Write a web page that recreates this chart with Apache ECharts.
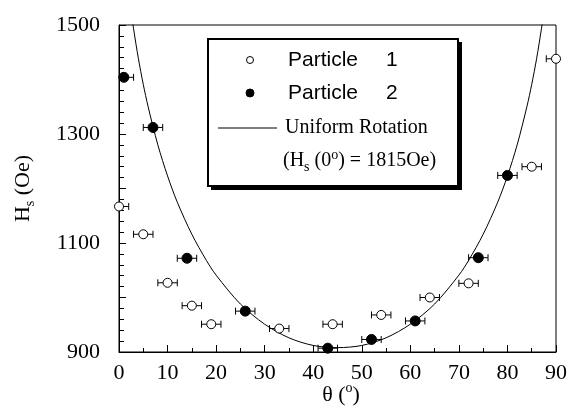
<!DOCTYPE html>
<html>
<head>
<meta charset="utf-8">
<script src="https://cdn.jsdelivr.net/npm/echarts@6/dist/echarts.min.js"></script>
<style>html,body{margin:0;padding:0;background:#fff}#c{width:570px;height:407px}</style>
</head>
<body>
<div id="c"></div>
<script>
// Particle 1 (open circles)
var p1X = [0, 5, 10, 15, 19, 33, 44, 54, 64, 72, 85, 90];
var p1Y = [1167, 1116, 1027, 985, 951, 943, 951, 968, 1000, 1026, 1240, 1438];
var p1Err = [2, 2, 2, 2, 2, 2, 2, 2, 2, 2, 2, 2];
// Particle 2 (filled circles)
var p2X = [1, 7, 14, 26, 43, 52, 61, 74, 80];
var p2Y = [1404, 1312, 1072, 975, 907, 923, 957, 1073, 1224];
var p2Err = [2, 2, 2, 2, 2, 2, 2, 2, 2];
// Uniform rotation curve
var curveX = [1.5, 2, 2.5, 3, 4, 5, 6, 8, 10, 12, 15, 18, 20, 25, 30, 35, 40, 45, 50, 55, 60, 65, 70, 72, 75, 78, 80, 82, 84, 85, 86, 87, 87.5, 88, 88.5];
var curveY = [1599, 1560, 1525, 1493, 1438, 1391, 1350, 1280, 1223, 1175, 1116, 1068, 1041, 988, 951, 926, 912, 908, 912, 926, 951, 988, 1041, 1068, 1116, 1175, 1223, 1280, 1350, 1391, 1438, 1493, 1525, 1560, 1599];
// Axes
var xMin = 0, xMax = 90, xStep = 10;
var yMin = 900, yMax = 1500, yStep = 100;
var yLabels = [900, 1100, 1300, 1500];

function pairs(a, b) { return a.map(function (v, i) { return [v, b[i]]; }); }
function triples(a, b, c) { return a.map(function (v, i) { return [v, b[i], c[i]]; }); }

var SERIF = "'Liberation Serif', 'DejaVu Serif', serif";
var SANS = "'Liberation Sans', Arial, sans-serif";

function renderErr(params, api) {
  var x = api.value(0), y = api.value(1), e = api.value(2);
  var lo = Math.max(xMin, x - e), hi = Math.min(xMax, x + e);
  var p1 = api.coord([lo, y]), p2 = api.coord([hi, y]);
  var st = { stroke: '#000', lineWidth: 1 };
  var ch = [{ type: 'line', shape: { x1: p1[0], y1: p1[1], x2: p2[0], y2: p2[1] }, style: st }];
  if (x - e >= xMin) ch.push({ type: 'line', shape: { x1: p1[0], y1: p1[1] - 3.5, x2: p1[0], y2: p1[1] + 3.5 }, style: st });
  if (x + e <= xMax) ch.push({ type: 'line', shape: { x1: p2[0], y1: p2[1] - 3.5, x2: p2[0], y2: p2[1] + 3.5 }, style: st });
  return { type: 'group', children: ch };
}

var chart = echarts.init(document.getElementById('c'), null, { renderer: 'canvas' });
var richMain = {
  m: { fontFamily: SERIF, fontSize: 22, lineHeight: 28, verticalAlign: 'middle', color: '#000' },
  sub: { fontFamily: SERIF, fontSize: 14, lineHeight: 14, verticalAlign: 'bottom', color: '#000' },
  sup: { fontFamily: SERIF, fontSize: 14, lineHeight: 14, verticalAlign: 'top', color: '#000' }
};
var richG = {
  m: { fontFamily: SERIF, fontSize: 22, lineHeight: 28, verticalAlign: 'middle', fill: '#000' },
  sup: { fontFamily: SERIF, fontSize: 14, lineHeight: 14, verticalAlign: 'top', fill: '#000' }
};
var richLeg = {
  m: { fontFamily: SERIF, fontSize: 20, lineHeight: 26, verticalAlign: 'middle', fill: '#000' },
  sub: { fontFamily: SERIF, fontSize: 14, lineHeight: 13, verticalAlign: 'bottom', fill: '#000' },
  sup: { fontFamily: SERIF, fontSize: 14, lineHeight: 13, verticalAlign: 'top', fill: '#000' }
};

chart.setOption({
  animation: false,
  backgroundColor: '#fff',
  grid: { left: 119, right: 14, top: 25, bottom: 55, show: true, borderColor: '#000', borderWidth: 1, backgroundColor: 'transparent',
    containLabel: false, outerBoundsMode: 'none' },
  xAxis: {
    type: 'value', min: xMin, max: xMax, interval: xStep,
    axisLine: { show: true, lineStyle: { color: '#000', width: 1 } },
    axisTick: { show: true, inside: true, length: 7, lineStyle: { color: '#000' } },
    minorTick: { show: true, splitNumber: 2, length: 4, lineStyle: { color: '#000' } },
    splitLine: { show: false },
    axisLabel: { color: '#000', fontFamily: SERIF, fontSize: 22, margin: 10 }
  },
  yAxis: {
    type: 'value', min: yMin, max: yMax, interval: yStep,
    axisLine: { show: true, lineStyle: { color: '#000', width: 1 } },
    axisTick: { show: true, inside: true, length: 7, lineStyle: { color: '#000' } },
    minorTick: { show: true, splitNumber: 5, length: 5, lineStyle: { color: '#000' } },
    splitLine: { show: false },
    axisLabel: { color: '#000', fontFamily: SERIF, fontSize: 22, margin: 19,
      formatter: function (v) { return yLabels.indexOf(v) >= 0 ? String(v) : ''; } },
    name: '{m|H}{sub|s}{m| (Oe)}', nameLocation: 'middle', nameGap: 82, nameRotate: 90,
    nameTextStyle: { rich: richMain }
  },
  series: [
    { type: 'line', data: pairs(curveX, curveY), showSymbol: false, smooth: 0.3,
      lineStyle: { color: '#000', width: 1 }, clip: true, z: 1 },
    { type: 'custom', renderItem: renderErr, data: triples(p1X, p1Y, p1Err), clip: false, z: 2 },
    { type: 'custom', renderItem: renderErr, data: triples(p2X, p2Y, p2Err), clip: false, z: 2 },
    { type: 'scatter', data: pairs(p1X, p1Y), symbol: 'circle', symbolSize: 9,
      itemStyle: { color: '#fff', borderColor: '#000', borderWidth: 1, opacity: 1 }, clip: false, z: 3 },
    { type: 'scatter', data: pairs(p2X, p2Y), symbol: 'circle', symbolSize: 10,
      itemStyle: { color: '#000', borderColor: '#000', borderWidth: 1, opacity: 1 }, clip: false, z: 3 }
  ],
  graphic: [
    { type: 'text', z: 12, x: 341, y: 395, style: { text: '{m|θ (}{sup|o}{m|)}', rich: richG, align: 'center', verticalAlign: 'middle' } },
    { type: 'rect', left: 211, top: 42, z: 10, shape: { width: 251, height: 148 }, style: { fill: '#000' } },
    { type: 'rect', left: 207, top: 38, z: 11, shape: { width: 250, height: 147 }, style: { fill: '#fff', stroke: '#000', lineWidth: 2 } },
    { type: 'circle', z: 12, shape: { cx: 250, cy: 60, r: 3.5 }, style: { fill: '#fff', stroke: '#000', lineWidth: 1 } },
    { type: 'circle', z: 12, shape: { cx: 250, cy: 93, r: 4 }, style: { fill: '#000', stroke: '#000', lineWidth: 1 } },
    { type: 'text', z: 12, x: 288, y: 60, style: { text: 'Particle', font: '21px ' + SANS, fill: '#000', verticalAlign: 'middle' } },
    { type: 'text', z: 12, x: 386, y: 60, style: { text: '1', font: '21px ' + SANS, fill: '#000', verticalAlign: 'middle' } },
    { type: 'text', z: 12, x: 288, y: 93, style: { text: 'Particle', font: '21px ' + SANS, fill: '#000', verticalAlign: 'middle' } },
    { type: 'text', z: 12, x: 386, y: 93, style: { text: '2', font: '21px ' + SANS, fill: '#000', verticalAlign: 'middle' } },
    { type: 'line', z: 12, shape: { x1: 218, y1: 128, x2: 277, y2: 128 }, style: { stroke: '#000', lineWidth: 1 } },
    { type: 'text', z: 12, x: 285, y: 128, style: { text: 'Uniform Rotation', font: '20px ' + SERIF, fill: '#000', verticalAlign: 'middle' } },
    { type: 'text', z: 12, x: 283, y: 161, style: { text: '{m|(H}{sub|s}{m| (0}{sup|o}{m|) = 1815Oe)}', rich: richLeg, verticalAlign: 'middle' } }
  ]
});
</script>
</body>
</html>
